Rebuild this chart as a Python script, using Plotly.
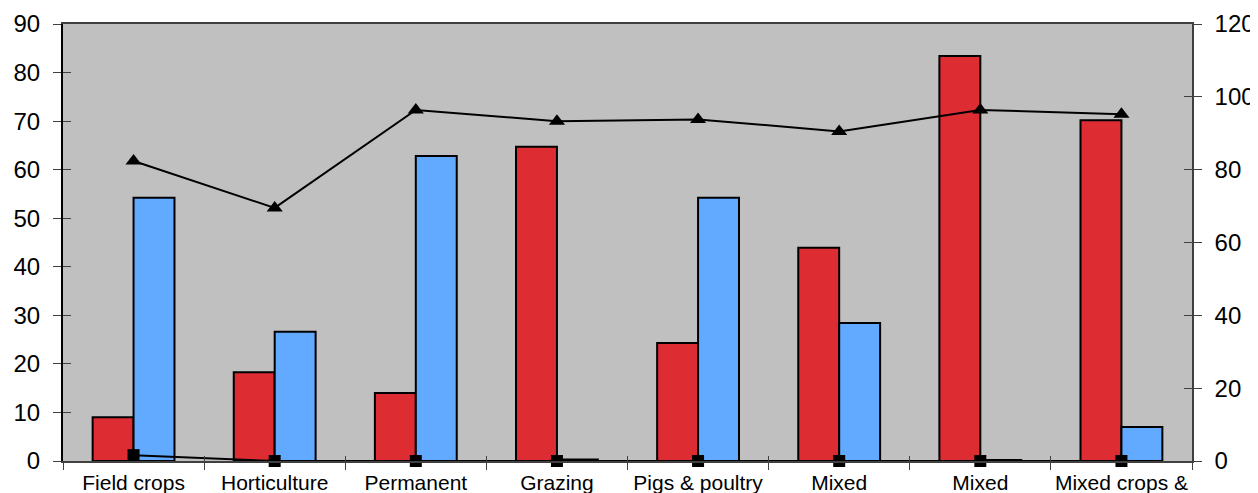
import plotly.graph_objects as go

categories = ["Field crops", "Horticulture", "Permanent", "Grazing",
              "Pigs & poultry", "Mixed", "Mixed", "Mixed crops &"]
red_values = [9.0, 18.3, 14.0, 64.7, 24.3, 43.9, 83.4, 70.2]
blue_values = [54.2, 26.6, 62.8, 0.3, 54.2, 28.4, 0.2, 7.0]
triangle_values = [82.4, 69.5, 96.4, 93.3, 93.8, 90.5, 96.4, 95.2]
square_values = [1.6, 0, 0, 0, 0, 0, 0, 0]
left_ticks = list(range(0, 91, 10))
right_ticks = list(range(0, 121, 20))

x = list(range(len(categories)))
boundaries = [i - 0.5 for i in range(len(categories) + 1)]

FONT = "Liberation Sans, Arial, sans-serif"

fig = go.Figure()
fig.add_trace(go.Bar(x=x, y=red_values, marker=dict(color="#DE2C33", line=dict(color="black", width=2)),
                     offsetgroup="r", yaxis="y", xaxis="x"))
fig.add_trace(go.Bar(x=x, y=blue_values, marker=dict(color="#62AAFF", line=dict(color="black", width=2)),
                     offsetgroup="b", yaxis="y", xaxis="x"))
fig.add_trace(go.Scatter(x=x, y=triangle_values, mode="lines+markers", yaxis="y2", xaxis="x",
                         line=dict(color="black", width=2),
                         marker=dict(symbol="triangle-up", size=14, color="black")))
fig.add_trace(go.Scatter(x=x, y=square_values, mode="lines+markers", yaxis="y2", xaxis="x",
                         line=dict(color="black", width=2), cliponaxis=False,
                         marker=dict(symbol="square", size=12, color="black")))

fig.update_layout(
    width=1250, height=485,
    margin=dict(l=55, r=66, t=16, b=32, autoexpand=False),
    paper_bgcolor="white", plot_bgcolor="#C0C0C0",
    showlegend=False,
    barmode="group", bargap=0.42, bargroupgap=0,
    font=dict(family=FONT, color="black"),
    xaxis=dict(range=[-0.5, 7.5], tickmode="array", tickvals=x, ticktext=categories,
               ticks="", showgrid=False, zeroline=False, automargin=False,
               showline=True, linecolor="#404040", linewidth=1.5, mirror=True,
               tickfont=dict(size=21, family=FONT),
               minor=dict(tickmode="array", tickvals=boundaries, ticks="outside", ticklen=7,
                          tickcolor="#404040", tickwidth=1, showgrid=False),
               ticklabelstandoff=2),
    xaxis3=dict(range=[-0.5, 7.5], overlaying="x", anchor="y", tickmode="array", tickvals=boundaries,
                ticks="inside", ticklen=5, tickcolor="#404040", showticklabels=False, automargin=False,
                showgrid=False, zeroline=False, showline=False),
    yaxis=dict(range=[0, 90], tickmode="array", tickvals=left_ticks, ticks="outside", ticklen=8,
               tickcolor="#404040", showgrid=False, zeroline=False, automargin=False,
               showline=True, linecolor="black", linewidth=2,
               tickfont=dict(size=24, family=FONT), ticklabelstandoff=8),
    yaxis3=dict(range=[0, 90], overlaying="y", side="left", anchor="x", tickmode="array",
                tickvals=left_ticks, ticks="inside", ticklen=8, tickcolor="#404040", automargin=False,
                showticklabels=False, showgrid=False, zeroline=False, showline=False),
    yaxis2=dict(range=[0, 120], overlaying="y", side="right", anchor="x", tickmode="array",
                tickvals=right_ticks, ticks="outside", ticklen=8, tickcolor="#404040", automargin=False,
                showgrid=False, zeroline=False, showline=True, linecolor="#404040", linewidth=1.5,
                tickfont=dict(size=24, family=FONT), ticklabelstandoff=8),
    yaxis4=dict(range=[0, 120], overlaying="y", side="right", anchor="x", tickmode="array",
                tickvals=right_ticks, ticks="inside", ticklen=8, tickcolor="#404040", automargin=False,
                showticklabels=False, showgrid=False, zeroline=False, showline=False),
)
fig.add_trace(go.Scatter(x=[None], y=[None], xaxis="x3", yaxis="y3", showlegend=False, hoverinfo="skip"))
fig.add_trace(go.Scatter(x=[None], y=[None], xaxis="x", yaxis="y4", showlegend=False, hoverinfo="skip"))

fig.write_html("out.html")
